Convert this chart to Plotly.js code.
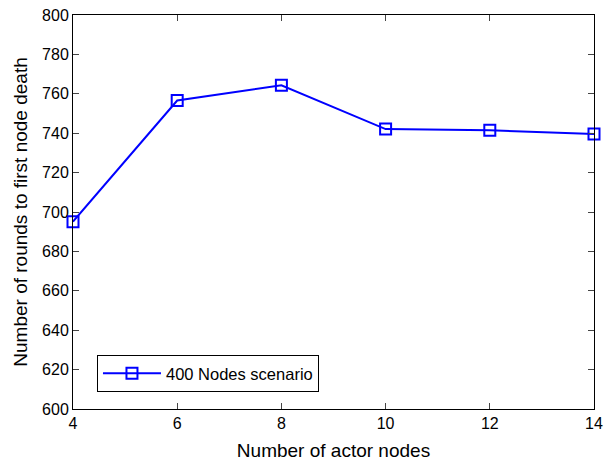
<!DOCTYPE html>
<html><head><meta charset="utf-8">
<script src="https://cdn.plot.ly/plotly-3.0.1.min.js"></script>
<style>html,body{margin:0;padding:0;background:#fff}#c{width:611px;height:461px}</style>
</head><body><div id="c"></div>
<script>
const actorNodes = [4, 6, 8, 10, 12, 14];
const rounds400 = [695.1, 756.6, 764.3, 742.1, 741.5, 739.6];
const seriesName = '400 Nodes scenario';

const fam = 'Liberation Sans, Arial, sans-serif';
const tickFont = {family: fam, size: 16, color: '#000'};
Plotly.newPlot('c', [{
  x: actorNodes, y: rounds400, name: seriesName, type: 'scatter', mode: 'lines+markers',
  line: {color: '#0000ff', width: 2},
  marker: {symbol: 'square-open', size: 11, color: '#0000ff', line: {width: 2, color: '#0000ff'}},
  cliponaxis: false
}], {
  width: 611, height: 461,
  margin: {l: 73, r: 17, t: 15, b: 52},
  paper_bgcolor: '#fff', plot_bgcolor: '#fff',
  font: {family: fam, size: 16, color: '#000'},
  showlegend: true,
  legend: {x: 0.046, y: 0.043, xanchor: 'left', yanchor: 'bottom', bgcolor: '#fff',
    bordercolor: '#000', borderwidth: 1, itemwidth: 58, font: {family: fam, size: 16.5, color: '#000'}},
  xaxis: {range: [4, 14], tickvals: actorNodes, ticks: 'inside', ticklen: 6, mirror: 'ticks',
    showline: true, linecolor: '#000', linewidth: 1, showgrid: false, zeroline: false,
    tickfont: tickFont, title: {text: 'Number of actor nodes', font: {family: fam, size: 19, color: '#000'}, standoff: 12}},
  yaxis: {range: [600, 800], dtick: 20, ticks: 'inside', ticklen: 6, mirror: 'ticks',
    showline: true, linecolor: '#000', linewidth: 1, showgrid: false, zeroline: false,
    tickfont: tickFont, title: {text: 'Number of rounds to first node death', font: {family: fam, size: 19, color: '#000'}, standoff: 9}}
}, {displayModeBar: false});
</script></body></html>
